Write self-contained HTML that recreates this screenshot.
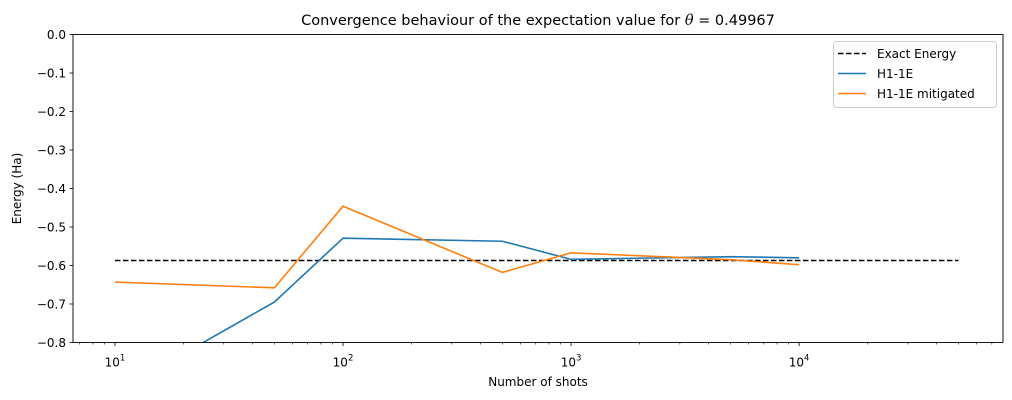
<!DOCTYPE html>
<html><head><meta charset="utf-8"><style>body{margin:0;background:#fff}svg{display:block;font-family:"DejaVu Sans","Liberation Sans",sans-serif}</style></head>
<body>
<svg id="chart" width="1012" height="400"></svg>
<script>
const shots = [10, 50, 100, 500, 1000, 5000, 10000];
const h1Values = [-0.93, -0.695, -0.529, -0.537, -0.584, -0.577, -0.58];
const mitigatedValues = [-0.643, -0.658, -0.446, -0.618, -0.567, -0.585, -0.598];
const exactEnergy = -0.587;
const exactRange = [10, 50000];
const yTicks = [0, -0.1, -0.2, -0.3, -0.4, -0.5, -0.6, -0.7, -0.8];
const xTickExps = [1, 2, 3, 4];

const L=73, R=1003, T=34.5, B=342.5;
const lmin=0.816, lmax=4.894;
const xs = v => L + (Math.log10(v)-lmin)/(lmax-lmin)*(R-L);
const ys = v => T + (0 - v)/0.8*(B-T);
const svg = document.getElementById('chart');
const NS='http://www.w3.org/2000/svg';
function mk(tag, attrs, parent){const e=document.createElementNS(NS,tag);for(const k in attrs)e.setAttribute(k,attrs[k]);(parent||svg).appendChild(e);return e;}

const clip=mk('clipPath',{id:'pc'});mk('rect',{x:L,y:T,width:R-L,height:B-T},clip);

const title=mk('text',{x:538,y:25,'text-anchor':'middle','font-size':14.5,fill:'#000'});


title.innerHTML='Convergence behaviour of the expectation value for <tspan font-style="italic" font-family="DejaVu Serif, serif">θ</tspan> = 0.49967';

yTicks.forEach(t=>{const y=ys(t);
 mk('line',{x1:L-3.5,x2:L,y1:y,y2:y,stroke:'#000','stroke-width':0.8});
 const tx=mk('text',{x:L-7,y:y+4.5,'text-anchor':'end','font-size':12,fill:'#000'});
 
 
 tx.textContent=(t===0?'0.0':'\u2212'+Math.abs(t).toFixed(1));
});
xTickExps.forEach(e=>{const x=xs(Math.pow(10,e));
 mk('line',{x1:x,x2:x,y1:B,y2:B+3.5,stroke:'#000','stroke-width':0.8});
 const tx=mk('text',{x:x,y:B+24,'text-anchor':'middle','font-size':12,fill:'#000'});
 
 
 tx.innerHTML='10<tspan font-size="8.5" dy="-6">'+e+'</tspan>';
});
for(let e=0;e<=4;e++)for(let m=2;m<=9;m++){const v=m*Math.pow(10,e);const x=xs(v);if(x>L&&x<R)mk('line',{x1:x,x2:x,y1:B,y2:B+2,stroke:'#000','stroke-width':0.6});}

const yl=mk('text',{x:21,y:(T+B)/2,'text-anchor':'middle','font-size':12,transform:'rotate(-90 21 '+((T+B)/2)+')'});


yl.textContent='Energy (Ha)';
const xl=mk('text',{x:(L+R)/2,y:386,'text-anchor':'middle','font-size':12});


xl.textContent='Number of shots';

const g=mk('g',{'clip-path':'url(#pc)'});
const ex=mk('line',{x1:xs(exactRange[0]),x2:xs(exactRange[1]),y1:ys(exactEnergy),y2:ys(exactEnergy),stroke:'#000','stroke-width':1.6,'stroke-dasharray':'5.5,2.5'},g);


const p1=mk('polyline',{points:shots.map((s,i)=>xs(s)+','+ys(h1Values[i])).join(' '),fill:'none',stroke:'#1f77b4','stroke-width':1.6},g);


const p2=mk('polyline',{points:shots.map((s,i)=>xs(s)+','+ys(mitigatedValues[i])).join(' '),fill:'none',stroke:'#ff7f0e','stroke-width':1.6},g);



const frame=mk('rect',{x:L,y:T,width:R-L,height:B-T,fill:'none',stroke:'#000','stroke-width':0.9});



const lg=mk('g',{});


mk('rect',{x:833.5,y:41.5,width:163,height:66,rx:3,fill:'#fff',stroke:'#ccc','stroke-width':1},lg);
const entries=[['Exact Energy','#000','5.5,2.5'],['H1-1E','#1f77b4',''],['H1-1E mitigated','#ff7f0e','']];
entries.forEach((en,i)=>{const y=53.5+i*20;
 mk('line',{x1:838,x2:866,y1:y,y2:y,stroke:en[1],'stroke-width':1.6,'stroke-dasharray':en[2]},lg);
 const t=mk('text',{x:877,y:y+4.5,'font-size':12},lg);
 
 
 t.textContent=en[0];
});
</script>
</body></html>
